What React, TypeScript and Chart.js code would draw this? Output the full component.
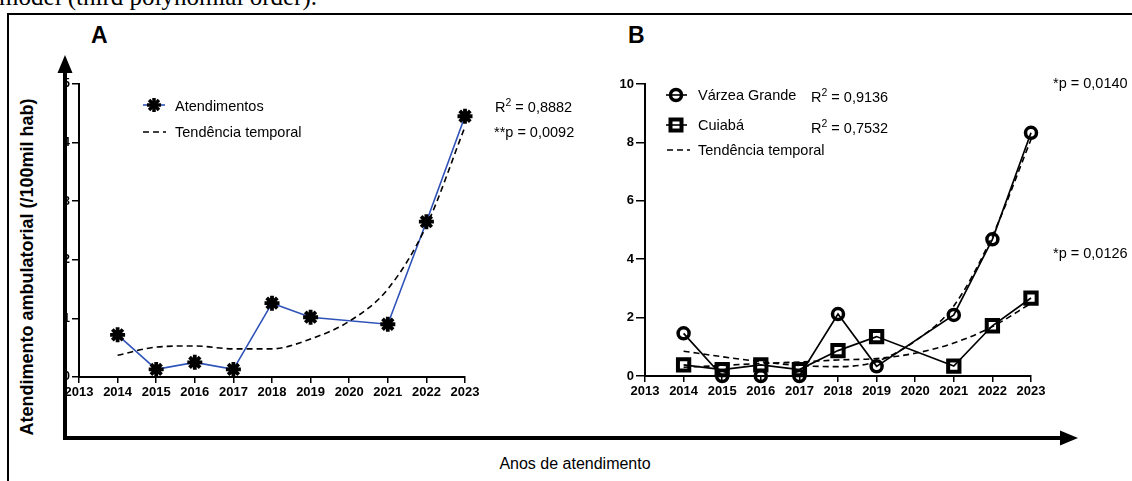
import React, { useEffect, useRef } from "react";
import { Chart, registerables } from "chart.js";
Chart.register(...registerables);

const FONT = "Arial, 'Liberation Sans', sans-serif";

const years = ["2013", "2014", "2015", "2016", "2017", "2018", "2019", "2020", "2021", "2022", "2023"];
// Panel A
const atendimentos = [null, 0.72, 0.13, 0.25, 0.13, 1.26, 1.02, null, 0.9, 2.65, 4.45];
const tendenciaA = [null, 0.37, 0.51, 0.53, 0.48, 0.48, 0.65, 0.95, 1.5, 2.58, 4.27];
const yTicksA = [0, 1, 2, 3, 4, 5];
// Panel B
const varzeaGrande = [null, 1.46, 0, 0, 0, 2.12, 0.33, null, 2.09, 4.68, 8.33];
const cuiaba = [null, 0.38, 0.22, 0.38, 0.22, 0.87, 1.35, null, 0.34, 1.72, 2.67];
const tendenciaVG = [null, 0.85, 0.66, 0.49, 0.36, 0.32, 0.5, 1.2, 2.4, 4.8, 8.1];
const tendenciaCuiaba = [null, 0.3, 0.36, 0.43, 0.48, 0.55, 0.6, 0.78, 1.13, 1.69, 2.49];
const yTicksB = [0, 2, 4, 6, 8, 10];

const BLUE = "#2f52b8";

function xScale() {
  return {
    type: "category" as const,
    offset: false,
    grid: { display: true, drawOnChartArea: false, drawTicks: true, tickLength: 6, color: "#000", lineWidth: 1.5, offset: false },
    border: { display: true, color: "#000", width: 2 },
    ticks: { color: "#000", font: { family: FONT, size: 13, weight: "bold" as const }, padding: 2, maxRotation: 0, autoSkip: false },
    afterFit: (s: any) => { s.height = 30; },
  };
}

function yScale(ticks: number[], width: number, tickLength: number, fontSize: number) {
  return {
    type: "linear" as const,
    min: ticks[0],
    max: ticks[ticks.length - 1],
    grid: { display: true, drawOnChartArea: false, drawTicks: true, tickLength, color: "#000", lineWidth: 1.5 },
    border: { display: true, color: "#000", width: 2 },
    ticks: { color: "#000", stepSize: ticks[1] - ticks[0], font: { family: FONT, size: fontSize, weight: "bold" as const }, padding: 2, callback: (v: any) => String(v) },
    afterFit: (s: any) => { s.width = width; },
  };
}

const baseOptions = (padding: any, yS: any) => ({
  responsive: false,
  animation: false as const,
  devicePixelRatio: 1,
  layout: { padding },
  plugins: { legend: { display: false }, tooltip: { enabled: false } },
  scales: { x: xScale(), y: yS },
});

const trend = (data: (number | null)[]) => ({
  data,
  borderColor: "#000",
  borderWidth: 1.6,
  borderDash: [6, 4],
  pointRadius: 0,
  cubicInterpolationMode: "monotone" as const,
  spanGaps: true,
  clip: false as const,
});

function ChartA() {
  const ref = useRef<HTMLCanvasElement>(null);
  useEffect(() => {
    const chart = new Chart(ref.current!, {
      type: "line",
      data: {
        labels: years,
        datasets: [
          trend(tendenciaA),
          {
            data: atendimentos,
            borderColor: BLUE,
            borderWidth: 1.6,
            pointStyle: "star",
            pointRadius: 7.5,
            pointBorderWidth: 3.8,
            pointBorderColor: "#000",
            pointBackgroundColor: "#000",
            spanGaps: true,
            tension: 0,
            clip: false as const,
          },
        ],
      },
      options: baseOptions({ left: 9, right: 35, top: 14, bottom: 8 }, yScale(yTicksA, 30, 7, 12)) as any,
    });
    return () => chart.destroy();
  }, []);
  return <canvas ref={ref} width={460} height={345} style={{ position: "absolute", left: 40, top: 70, width: 460, height: 345 }} />;
}

function ChartB() {
  const ref = useRef<HTMLCanvasElement>(null);
  useEffect(() => {
    const chart = new Chart(ref.current!, {
      type: "line",
      data: {
        labels: years,
        datasets: [
          trend(tendenciaVG),
          trend(tendenciaCuiaba),
          {
            data: varzeaGrande,
            borderColor: "#000",
            borderWidth: 1.7,
            pointStyle: "circle",
            pointRadius: 5.5,
            pointBorderWidth: 3.5,
            pointBorderColor: "#000",
            pointBackgroundColor: "rgba(0,0,0,0)",
            spanGaps: true,
            tension: 0,
            clip: false as const,
          },
          {
            data: cuiaba,
            borderColor: "#000",
            borderWidth: 1.7,
            pointStyle: "rect",
            pointRadius: 8,
            pointBorderWidth: 4,
            pointBorderColor: "#000",
            pointBackgroundColor: "rgba(0,0,0,0)",
            spanGaps: true,
            tension: 0,
            clip: false as const,
          },
        ],
      },
      options: baseOptions({ left: 10, right: 39, top: 14, bottom: 9 }, yScale(yTicksB, 35, 9, 13)) as any,
    });
    return () => chart.destroy();
  }, []);
  return <canvas ref={ref} width={470} height={345} style={{ position: "absolute", left: 600, top: 70, width: 470, height: 345 }} />;
}

function T(props: { x: number; y: number; size?: number; bold?: boolean; children: React.ReactNode }) {
  const { x, y, size = 14.5, bold = false, children } = props;
  return (
    <div
      style={{
        position: "absolute",
        left: x,
        top: y,
        transform: "translateY(-50%)",
        fontFamily: FONT,
        fontSize: size,
        fontWeight: bold ? "bold" : "normal",
        lineHeight: 1,
        whiteSpace: "nowrap",
        color: "#000",
      }}
    >
      {children}
    </div>
  );
}

const Sup = (p: { children: React.ReactNode }) => (
  <span style={{ fontSize: "0.72em", position: "relative", top: "-0.55em" }}>{p.children}</span>
);

const asterisk = (cx: number, cy: number, r: number) => (
  <g stroke="#000" strokeWidth={3.5}>
    <line x1={cx - r} y1={cy} x2={cx + r} y2={cy} />
    <line x1={cx} y1={cy - r} x2={cx} y2={cy + r} />
    <line x1={cx - r * 0.707} y1={cy - r * 0.707} x2={cx + r * 0.707} y2={cy + r * 0.707} />
    <line x1={cx - r * 0.707} y1={cy + r * 0.707} x2={cx + r * 0.707} y2={cy - r * 0.707} />
  </g>
);

export default function App() {
  return (
    <div style={{ position: "absolute", left: 0, top: 0, width: 1132, height: 481, overflow: "hidden", background: "#fff" }}>
      <div
        style={{
          position: "absolute",
          left: -1,
          top: -16,
          fontFamily: "'Times New Roman', 'Liberation Serif', serif",
          fontSize: 25,
          lineHeight: 1,
          whiteSpace: "nowrap",
        }}
      >
        model (third polynomial order).
      </div>
      <div style={{ position: "absolute", left: 7, top: 13, width: 1200, height: 520, borderTop: "2.5px solid #000", borderLeft: "2px solid #000" }} />

      <div style={{ position: "absolute", left: 91, top: 24, fontFamily: FONT, fontWeight: "bold", fontSize: 23, lineHeight: 1 }}>A</div>
      <div style={{ position: "absolute", left: 628, top: 24, fontFamily: FONT, fontWeight: "bold", fontSize: 23, lineHeight: 1 }}>B</div>

      <div
        style={{
          position: "absolute",
          left: 27,
          top: 267,
          transform: "translate(-50%, -50%) rotate(-90deg)",
          fontFamily: FONT,
          fontWeight: "bold",
          fontSize: 18,
          lineHeight: 1,
          whiteSpace: "nowrap",
        }}
      >
        Atendimento ambulatorial (/100mil hab)
      </div>

      <ChartA />
      <ChartB />

      <T x={175} y={106}>Atendimentos</T>
      <T x={175} y={132}>Tendência temporal</T>
      <T x={495} y={107}>R<Sup>2</Sup> = 0,8882</T>
      <T x={494} y={132}>**p = 0,0092</T>

      <T x={698} y={95}>Várzea Grande</T>
      <T x={811} y={97}>R<Sup>2</Sup> = 0,9136</T>
      <T x={698} y={125}>Cuiabá</T>
      <T x={811} y={128}>R<Sup>2</Sup> = 0,7532</T>
      <T x={698} y={150}>Tendência temporal</T>
      <T x={1053} y={83}>*p = 0,0140</T>
      <T x={1053} y={253}>*p = 0,0126</T>

      <div
        style={{
          position: "absolute",
          left: 575,
          top: 464,
          transform: "translate(-50%, -50%)",
          fontFamily: FONT,
          fontSize: 16,
          lineHeight: 1,
          whiteSpace: "nowrap",
        }}
      >
        Anos de atendimento
      </div>

      <svg width={1132} height={481} style={{ position: "absolute", left: 0, top: 0, pointerEvents: "none" }}>
        {/* legend A */}
        <line x1={143} y1={105} x2={165} y2={105} stroke={BLUE} strokeWidth={1.6} />
        {asterisk(154, 105, 7)}
        <line x1={143} y1={132} x2={166} y2={132} stroke="#000" strokeWidth={1.6} strokeDasharray="6 4" />
        {/* legend B */}
        <line x1={666} y1={95} x2={687} y2={95} stroke="#000" strokeWidth={1.6} />
        <circle cx={676} cy={95} r={5.5} stroke="#000" strokeWidth={3.5} fill="none" />
        <line x1={666} y1={125} x2={687} y2={125} stroke="#000" strokeWidth={1.6} />
        <rect x={670.5} y={119.5} width={11} height={11} stroke="#000" strokeWidth={4} fill="none" />
        <line x1={667} y1={150} x2={690} y2={150} stroke="#000" strokeWidth={1.6} strokeDasharray="6 4" />
        {/* big arrows */}
        <line x1={65} y1={70} x2={65} y2={440} stroke="#000" strokeWidth={4} />
        <polygon points="65,55 57.5,73 72.5,73" fill="#000" />
        <line x1={63} y1={438} x2={1062} y2={438} stroke="#000" strokeWidth={4} />
        <polygon points="1078,438 1060,430.5 1060,445.5" fill="#000" />
      </svg>
    </div>
  );
}
